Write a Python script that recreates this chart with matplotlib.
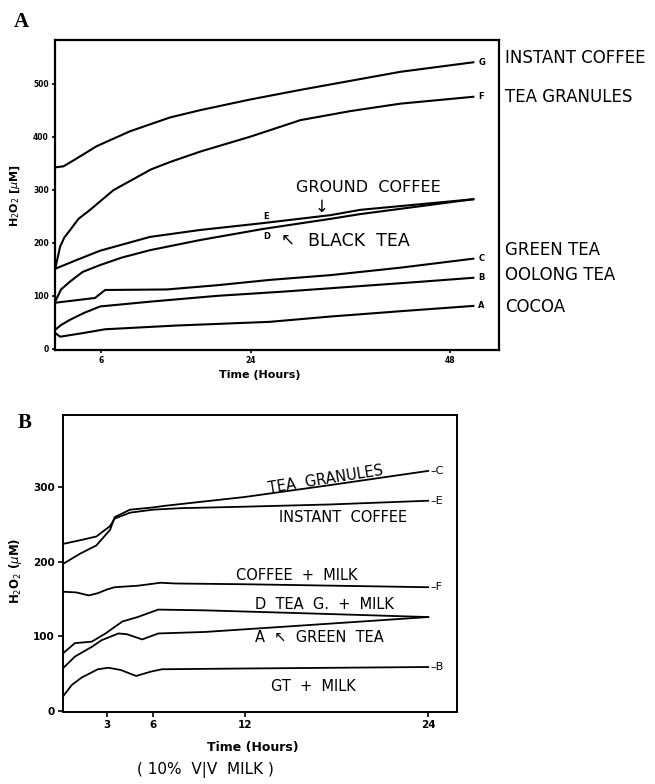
import numpy as np
import matplotlib.pyplot as plt

# ---- panel A : H2O2 in beverages over 48 h ----
a_t = {
    'G': [0.5, 1.5, 3, 5.5, 9.5, 14.3, 18, 24, 30, 36, 42, 50.8],
    'F': [0.5, 0.8, 1.1, 1.6, 2.3, 3.3, 4.7, 7.5, 12, 14.3, 18, 24, 30, 36, 42, 50.8],
    'E': [0.5, 3, 5.9, 11.9, 17.9, 25.5, 33.6, 37.2, 44, 50.8],
    'D': [0.5, 1.2, 2.3, 3.8, 5.9, 8.5, 11.9, 17.9, 25.5, 33.6, 37.2, 44, 50.8],
    'C': [0.5, 5.3, 6.5, 13.9, 20, 26.3, 33.6, 42, 50.8],
    'B': [0.5, 1.2, 2.3, 4, 5.9, 11.9, 20, 28, 36, 44, 50.8],
    'A': [0.5, 1.1, 3.9, 6.5, 15, 26.3, 33.6, 42, 50.8],
}
a_v = {
    'G': [342, 344, 358, 382, 410, 436, 450, 470, 488, 505, 522, 540],
    'F': [151, 172, 193, 210, 224, 245, 262, 299, 338, 352, 372, 400, 431, 448, 462, 475],
    'E': [151, 167, 185, 211, 224, 237, 252, 262, 272, 282],
    'D': [89, 112, 127, 145, 158, 172, 186, 205, 226, 245, 254, 268, 282],
    'C': [87, 96, 111, 112, 120, 130, 139, 153, 170],
    'B': [36, 45, 55, 68, 80, 89, 100, 108, 117, 126, 134],
    'A': [30, 23, 30, 37, 44, 51, 61, 71, 81],
}
a_names = {'G': 'INSTANT COFFEE', 'F': 'TEA GRANULES', 'C': 'GREEN TEA',
           'B': 'OOLONG TEA', 'A': 'COCOA'}
a_name_y = {'G': 548, 'F': 475, 'C': 186, 'B': 139, 'A': 79}

# ---- panel B : with 10% v/v milk over 24 h ----
b_t = {
    'C': [0.1, 1.24, 2.3, 3.2, 3.5, 4.5, 6, 6.7, 12, 17.6, 24],
    'E': [0.1, 1.24, 2.3, 3.2, 3.5, 4.5, 6, 7.8, 12, 17.6, 24],
    'F': [0.1, 1, 1.8, 2.4, 3, 3.5, 5, 6.5, 7.5, 12, 18, 24],
    'D': [0.1, 0.9, 2.0, 2.9, 4.0, 5.0, 6.35, 9.4, 16, 24],
    'A': [0.1, 0.9, 2.0, 2.65, 3.75, 4.3, 5.3, 6.35, 9.4, 16, 24],
    'B': [0.1, 0.7, 1.35, 2.4, 3.1, 3.9, 4.9, 5.9, 6.6, 12, 18, 24],
}
b_v = {
    'C': [197, 211, 222, 243, 260, 270, 273, 275, 287, 303, 322],
    'E': [224, 229, 234, 248, 258, 266, 270, 272, 274, 277, 282],
    'F': [160, 159, 155, 158, 163, 166, 168, 172, 171, 170, 168, 166],
    'D': [77, 91, 93, 104, 120, 126, 136, 135, 131, 126],
    'A': [57, 73, 86, 95, 104, 103, 96, 104, 106, 115, 126],
    'B': [19, 35, 45, 56, 58, 55, 47, 53, 56, 57, 58, 59],
}
b_end_letters = ['C', 'E', 'F', 'B']

fig = plt.figure(figsize=(6.55, 7.84), dpi=100)
hand = dict(family='DejaVu Sans', color='black')

# ================= A =================
ax1 = fig.add_axes([0.084, 0.5536, 0.678, 0.3954])
for k in a_t:
    ax1.plot(a_t[k], a_v[k], color='black', lw=1.5)
for k in ['G', 'F', 'C', 'B', 'A']:
    ax1.text(51.4, a_v[k][-1], k, fontsize=6, fontweight='bold', va='center', ha='left')
for k, name in a_names.items():
    ax1.text(54.6, a_name_y[k], name, fontsize=12, va='center', ha='left',
             clip_on=False, **hand)
ax1.text(25.9, 249, 'E', fontsize=6, fontweight='bold', va='center', ha='center')
ax1.text(26.0, 211, 'D', fontsize=6, fontweight='bold', va='center', ha='center')
ax1.text(38.2, 305, 'GROUND  COFFEE', fontsize=11.5, va='center', ha='center', **hand)
ax1.text(32.6, 268, '\u2193', fontsize=12, va='center', ha='center', **hand)
ax1.text(28.5, 207, '\u2196', fontsize=12, va='center', ha='center', **hand)
ax1.text(37.0, 203, 'BLACK  TEA', fontsize=12.5, va='center', ha='center', **hand)

ax1.set_xlim(0.48, 53.9)
ax1.set_ylim(-2, 582)
ax1.set_xticks([6, 24, 48])
ax1.set_yticks([0, 100, 200, 300, 400, 500])
ax1.tick_params(direction='out', length=2.5, width=1.2, labelsize=5.5, pad=2)
for lab in ax1.get_xticklabels() + ax1.get_yticklabels():
    lab.set_fontweight('bold')
for s in ax1.spines.values():
    s.set_linewidth(1.6)
ax1.set_xlabel('Time (Hours)', fontsize=8, fontweight='bold', va='center')
ax1.xaxis.set_label_coords(0.462, -0.081)
ax1.set_ylabel(r'H$_2$O$_2$ [$\mu$M]', fontsize=8, fontweight='bold', va='center')
ax1.yaxis.set_label_coords(-0.090, 0.497)

# ================= B =================
ax2 = fig.add_axes([0.0957, 0.0912, 0.6015, 0.3795])
for k in b_t:
    ax2.plot(b_t[k], b_v[k], color='black', lw=1.3)
for k in b_end_letters:
    ax2.text(24.15, b_v[k][-1], '\u2013' + k, fontsize=8, va='center', ha='left')

ax2.text(17.3, 310, 'TEA  GRANULES', fontsize=10.5, va='center', ha='center',
         rotation=9, rotation_mode='anchor', **hand)
ax2.text(18.4, 260, 'INSTANT  COFFEE', fontsize=10.5, va='center', ha='center', **hand)
ax2.text(15.4, 182, 'COFFEE  +  MILK', fontsize=10.5, va='center', ha='center', **hand)
ax2.text(17.2, 143, 'D  TEA  G.  +  MILK', fontsize=10.5, va='center', ha='center', **hand)
ax2.text(16.9, 98, 'A  \u2196  GREEN  TEA', fontsize=10.5, va='center', ha='center', **hand)
ax2.text(16.5, 33, 'GT  +  MILK', fontsize=10.5, va='center', ha='center', **hand)

ax2.set_xlim(0.1, 25.86)
ax2.set_ylim(-2, 397)
ax2.set_xticks([3, 6, 12, 24])
ax2.set_yticks([0, 100, 200, 300])
ax2.tick_params(direction='out', length=3.5, width=1.2, labelsize=7.5, pad=2)
for lab in ax2.get_xticklabels() + ax2.get_yticklabels():
    lab.set_fontweight('bold')
for s in ax2.spines.values():
    s.set_linewidth(1.4)
ax2.set_xlabel('Time (Hours)', fontsize=9, fontweight='bold', va='center')
ax2.xaxis.set_label_coords(0.483, -0.116)
ax2.set_ylabel(r'H$_2$O$_2$ ($\mu$M)', fontsize=8.5, fontweight='bold', va='center')
ax2.yaxis.set_label_coords(-0.121, 0.476)

fig.text(205 / 655, 1 - 770 / 784, '( 10%  V|V  MILK )', fontsize=11,
         ha='center', va='center', **hand)

fig.text(21 / 655, 1 - 22 / 784, 'A', family='Liberation Serif', fontweight='bold',
         fontsize=15, ha='center', va='center')
fig.text(25 / 655, 1 - 423 / 784, 'B', family='Liberation Serif', fontweight='bold',
         fontsize=15, ha='center', va='center')

plt.savefig('out.png', dpi=100)
